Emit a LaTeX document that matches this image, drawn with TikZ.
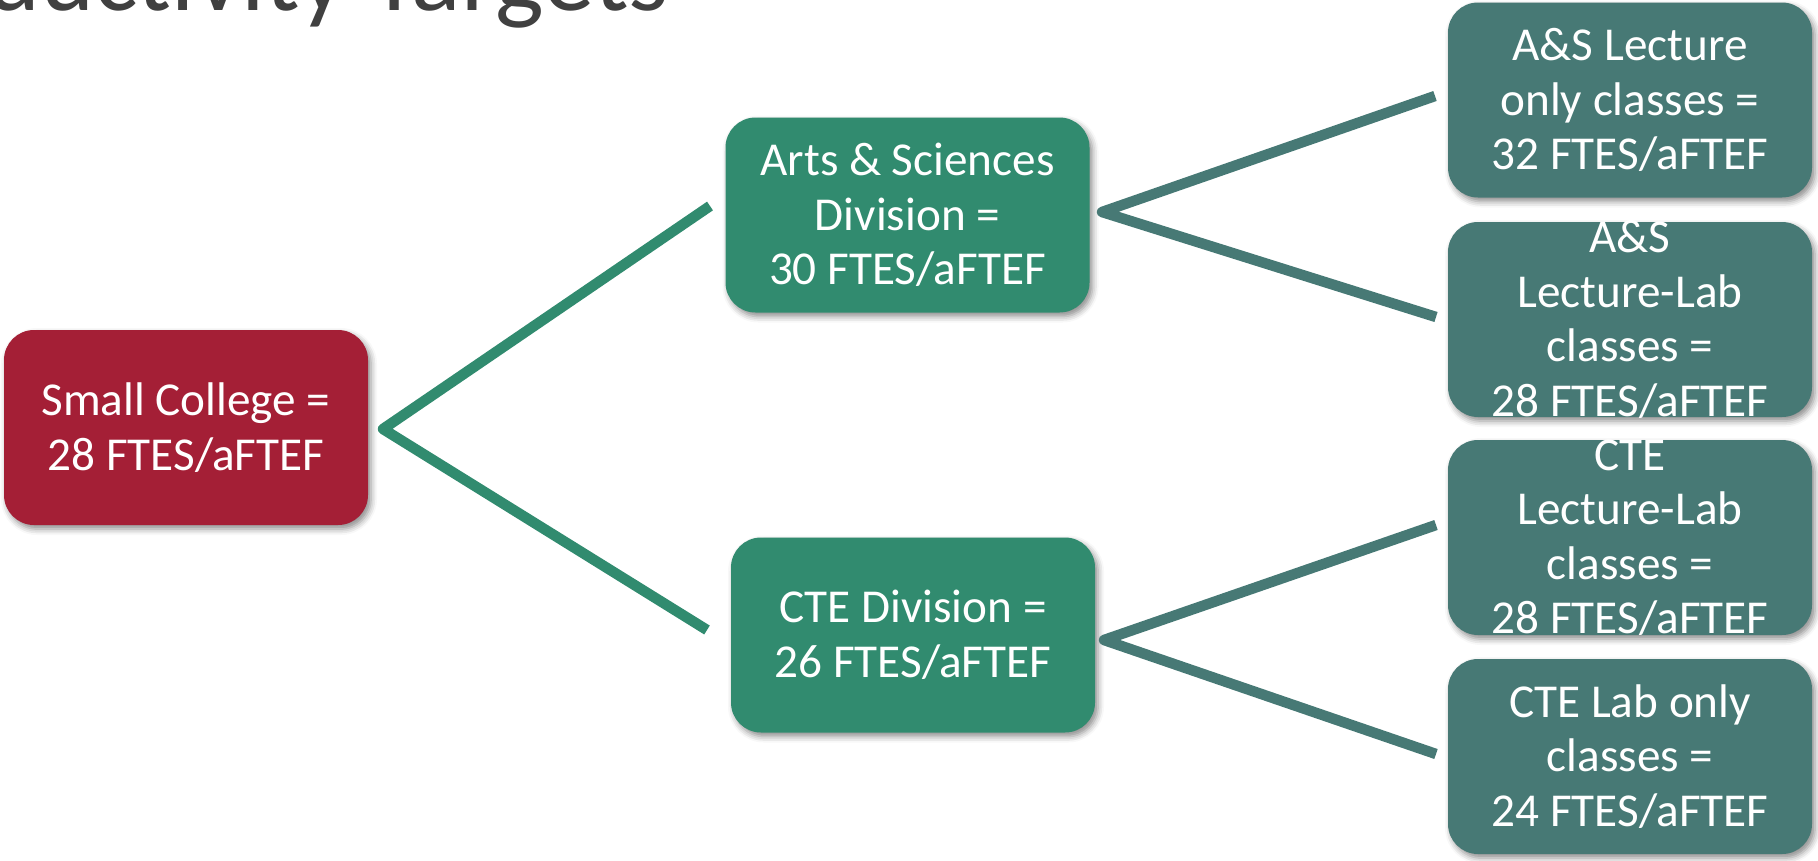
\documentclass[tikz,border=0pt]{standalone}
\usepackage{fontspec}
\setmainfont{Carlito}
\usetikzlibrary{shadows.blur}
\definecolor{collegered}{HTML}{A41F36}
\definecolor{divgreen}{HTML}{318B6F}
\definecolor{classteal}{HTML}{477975}
\definecolor{titlegray}{HTML}{404040}
\tikzset{
  tilebox/.style={rounded corners=30pt, minimum width=364pt, minimum height=195pt,
    inner sep=0pt, draw=none,
    blur shadow={shadow xshift=3pt, shadow yshift=-4pt, shadow blur radius=6pt, shadow opacity=45}},
  boxtext/.style={text=white, align=center, inner sep=0pt,
    font=\fontsize{47.2}{54.5}\selectfont},
  branch/.style={line width=10.5pt, line join=round, line cap=butt},
}
\begin{document}
\begin{tikzpicture}[x=1pt,y=-1pt]
\useasboundingbox (0,0) rectangle (1818,860);
\clip (0,0) rectangle (1818,860);

% heading, mostly above the top edge
\node[anchor=base east, text=titlegray, inner sep=0pt,
      font=\fontsize{103}{110}\selectfont] (title) at (669,10) {Productivity Targets};

% tiles
\node[tilebox, fill=collegered] (sc)  at (186,427.5) {};
\node[tilebox, fill=divgreen]   (as)  at (907.5,215) {};
\node[tilebox, fill=divgreen]   (cte) at (913,635)   {};
\node[tilebox, fill=classteal]  (r1)  at (1630,100)  {};
\node[tilebox, fill=classteal]  (r2)  at (1630,319.5){};
\node[tilebox, fill=classteal]  (r3)  at (1630,537.5){};
\node[tilebox, fill=classteal]  (r4)  at (1630,756.5){};

% branch end points
\coordinate (j0) at (383,429);
\coordinate (e1) at (710,206);
\coordinate (e2) at (707,630);
\coordinate (j1) at (1102,212);
\coordinate (e3) at (1435,96);
\coordinate (e4) at (1436,317);
\coordinate (j2) at (1104,640);
\coordinate (e5) at (1436,525);
\coordinate (e6) at (1436,754);

\draw[branch, divgreen]  (e1) -- (j0) -- (e2);
\draw[branch, classteal] (e3) -- (j1) -- (e4);
\draw[branch, classteal] (e5) -- (j2) -- (e6);

% tile captions
\node[boxtext] (scT)  at (sc)  {Small College =\\28 FTES/aFTEF};
\node[boxtext] (asT)  at (as)  {Arts \& Sciences\\Division =\\30 FTES/aFTEF};
\node[boxtext] (cteT) at (cte) {CTE Division =\\26 FTES/aFTEF};
\node[boxtext] (r1T)  at (r1)  {A\&S Lecture\\only classes =\\32 FTES/aFTEF};
\node[boxtext] (r2T)  at (r2)  {A\&S\\Lecture-Lab\\classes =\\28 FTES/aFTEF};
\node[boxtext] (r3T)  at (r3)  {CTE\\Lecture-Lab\\classes =\\28 FTES/aFTEF};
\node[boxtext] (r4T)  at (r4)  {CTE Lab only\\classes =\\24 FTES/aFTEF};
\end{tikzpicture}
\end{document}
